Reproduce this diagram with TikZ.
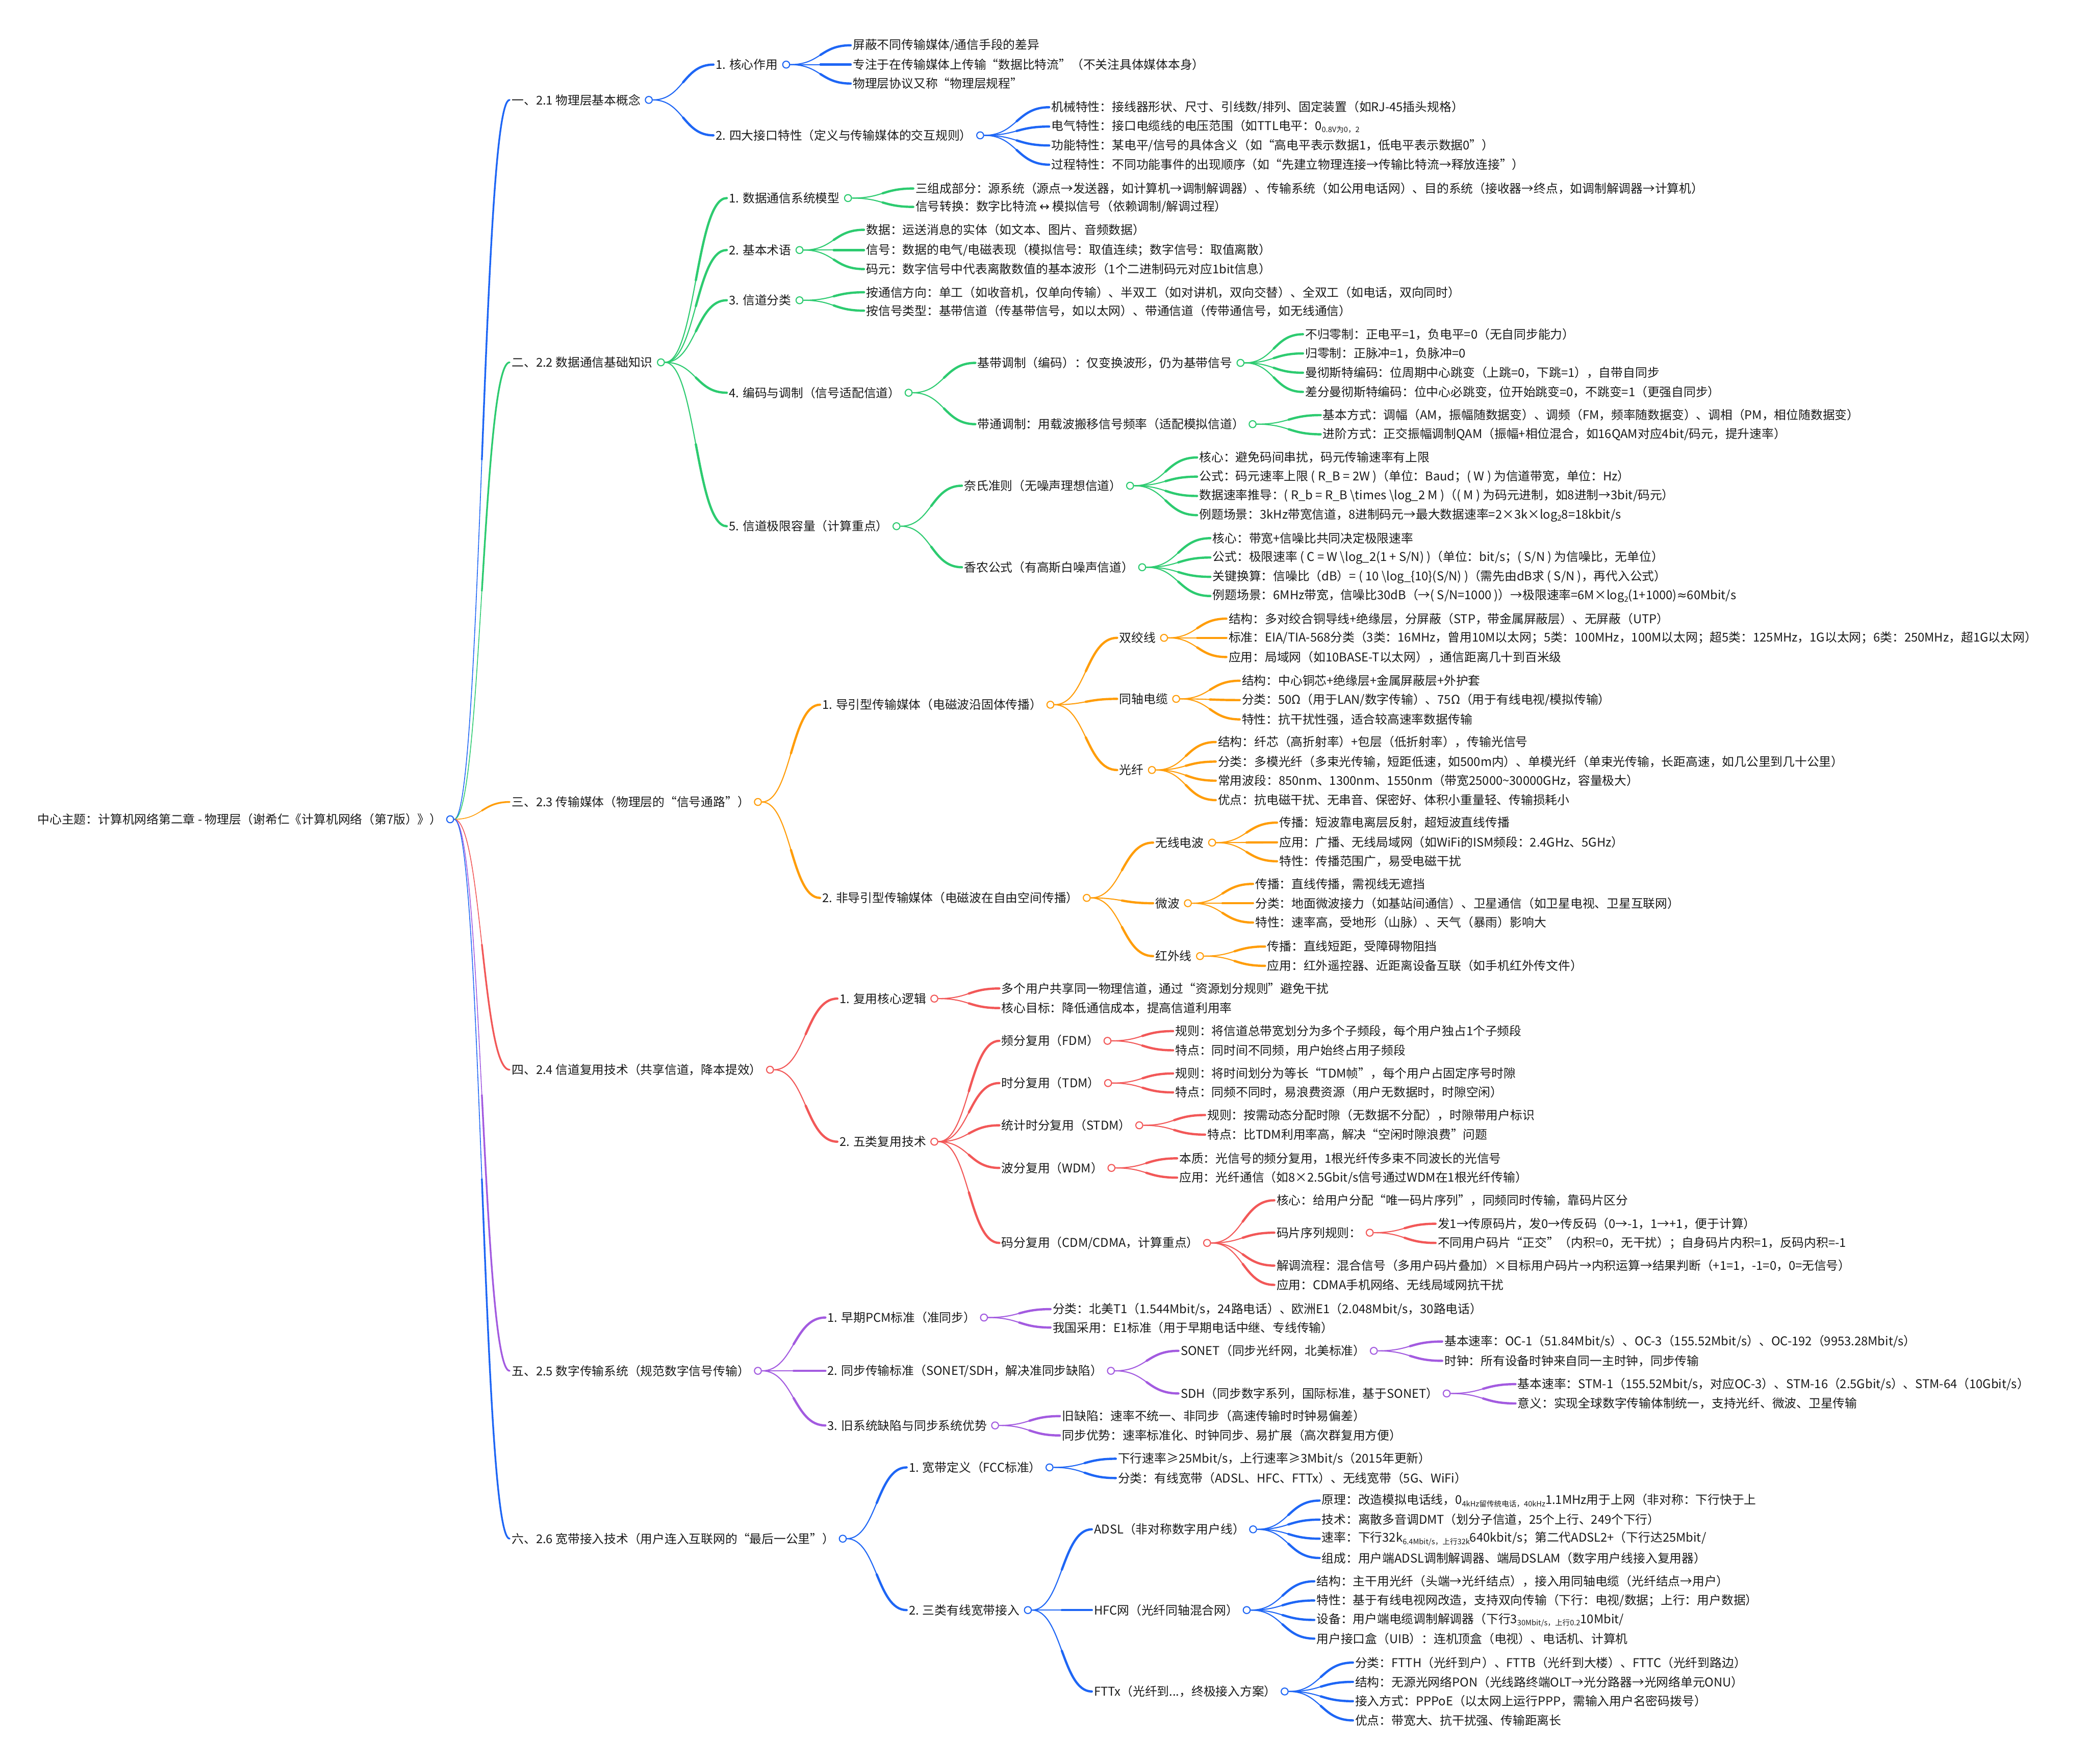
\documentclass[tikz,border=0pt]{standalone}
\usepackage{fontspec}
\setmainfont{Noto Sans CJK SC}
\newfontfamily\dv{DejaVu Sans}
\usetikzlibrary{calc}
\definecolor{cA}{HTML}{1E66F5}
\definecolor{cB}{HTML}{2DCB70}
\definecolor{cC}{HTML}{FF9D0A}
\definecolor{cD}{HTML}{F25858}
\definecolor{cE}{HTML}{A35BE0}
\definecolor{txt}{HTML}{1A1A1A}
\pgfdeclarelayer{back}\pgfdeclarelayer{bg}\pgfsetlayers{back,bg,main}
\newcommand\fs{\fontsize{9.1}{11}\selectfont}
\newcommand\lsub[1]{\raisebox{-0.35ex}{\fontsize{5.6}{6}\selectfont #1}}
\newcommand\bs{\textbackslash}
\tikzset{
  t/.style={anchor=west,inner sep=0pt,font=\fs,text=txt},
  dot/.style={circle,draw,line width=0.8pt,fill=white,minimum size=5.2pt,inner sep=0pt},
}
\newcommand\Lf[4]{\node[t] (#1) at (#2,#3) {#4};}
\newcommand\Pn[5]{\node[t] (#1) at (#2,#3) {#4};\node[dot,draw=#5] (#1-dot) at ([xshift=6pt]#1.east) {};}
\newcommand\conn[5]{%
\begin{pgfonlayer}{bg}
\draw[#1,line width=#2] let \p1=(#4),\p2=(#5) in (\p1) .. controls ({(\x1+\x2)/2},\y1) and ({(\x1+\x2)/2},\y2) .. (\p2);
\draw[#1,line width=#3,line cap=round] let \p1=(#4),\p2=(#5) in ({(\x1+\x2)/2},{(\y1+\y2)/2}) .. controls ({(3*(\x1+\x2)/2+\x2)/4},{(\y1+3*\y2)/4}) and ({((\x1+\x2)/2+\x2)/2},\y2) .. (\p2);
\end{pgfonlayer}}
\newcommand\Ed[3]{\conn{#1}{0.8pt}{1.7pt}{#2-dot.east}{[xshift=-1.5pt]#3.west}}
\newcommand\Er[2]{\conn{#1}{0.6pt}{1.3pt}{root-dot.east}{[xshift=-1.5pt]#2.west}}
\begin{document}
\begin{tikzpicture}[x=1pt,y=-1pt]
\useasboundingbox (0,0) rectangle (1568,1324);
\begin{pgfonlayer}{back}
\fill[white] (0,0) rectangle (1568,1324);
\end{pgfonlayer}
% root
\Pn{root}{28}{615}{中心主题：计算机网络第二章 - 物理层（谢希仁《计算机网络（第7版）》）}{cA}
% level 1
\Pn{a}{384}{75}{一、2.1 物理层基本概念}{cA}
\Pn{b}{384}{272}{二、2.2 数据通信基础知识}{cB}
\Pn{c}{384}{602}{三、2.3 传输媒体（物理层的“信号通路”）}{cC}
\Pn{d}{384}{803}{四、2.4 信道复用技术（共享信道，降本提效）}{cD}
\Pn{e}{384}{1029}{五、2.5 数字传输系统（规范数字信号传输）}{cE}
\Pn{f}{384}{1155}{六、2.6 宽带接入技术（用户连入互联网的“最后一公里”）}{cA}
\Er{cA}{a}\Er{cB}{b}\Er{cC}{c}\Er{cD}{d}\Er{cE}{e}\Er{cA}{f}
% ===== branch 1
\Pn{a1}{537}{48.5}{1. 核心作用}{cA}
\Lf{a1a}{640}{34}{屏蔽不同传输媒体/通信手段的差异}
\Lf{a1b}{640}{48.5}{专注于在传输媒体上传输“数据比特流”（不关注具体媒体本身）}
\Lf{a1c}{640}{62.7}{物理层协议又称“物理层规程”}
\Pn{a2}{537}{101.6}{2. 四大接口特性（定义与传输媒体的交互规则）}{cA}
\Lf{a2a}{789}{80.5}{机械特性：接线器形状、尺寸、引线数/排列、固定装置（如RJ-45插头规格）}
\Lf{a2b}{789}{95}{电气特性：接口电缆线的电压范围（如TTL电平：0\lsub{0.8V为0，2}}
\Lf{a2c}{789}{109.2}{功能特性：某电平/信号的具体含义（如“高电平表示数据1，低电平表示数据0”）}
\Lf{a2d}{789}{123.6}{过程特性：不同功能事件的出现顺序（如“先建立物理连接→传输比特流→释放连接”）}
\Ed{cA}{a}{a1}\Ed{cA}{a}{a2}
\Ed{cA}{a1}{a1a}\Ed{cA}{a1}{a1b}\Ed{cA}{a1}{a1c}
\Ed{cA}{a2}{a2a}\Ed{cA}{a2}{a2b}\Ed{cA}{a2}{a2c}\Ed{cA}{a2}{a2d}
% ===== branch 2
\Pn{b1}{547}{148.7}{1. 数据通信系统模型}{cB}
\Lf{b1a}{687}{141.5}{三组成部分：源系统（源点→发送器，如计算机→调制解调器）、传输系统（如公用电话网）、目的系统（接收器→终点，如调制解调器→计算机）}
\Lf{b1b}{687}{155.3}{信号转换：数字比特流 {\dv ↔} 模拟信号（依赖调制/解调过程）}
\Pn{b2}{547}{187.7}{2. 基本术语}{cB}
\Lf{b2a}{650}{172.5}{数据：运送消息的实体（如文本、图片、音频数据）}
\Lf{b2b}{650}{187.7}{信号：数据的电气/电磁表现（模拟信号：取值连续；数字信号：取值离散）}
\Lf{b2c}{650}{202}{码元：数字信号中代表离散数值的基本波形（1个二进制码元对应1bit信息）}
\Pn{b3}{547}{225.4}{3. 信道分类}{cB}
\Lf{b3a}{650}{219.4}{按通信方向：单工（如收音机，仅单向传输）、半双工（如对讲机，双向交替）、全双工（如电话，双向同时）}
\Lf{b3b}{650}{233.2}{按信号类型：基带信道（传基带信号，如以太网）、带通信道（传带通信号，如无线通信）}
\Pn{b4}{547}{294.8}{4. 编码与调制（信号适配信道）}{cB}
\Pn{b4a}{733.6}{272.4}{基带调制（编码）：仅变换波形，仍为基带信号}{cB}
\Lf{b4a1}{979.5}{250.9}{不归零制：正电平=1，负电平=0（无自同步能力）}
\Lf{b4a2}{979.5}{265.3}{归零制：正脉冲=1，负脉冲=0}
\Lf{b4a3}{979.5}{279.8}{曼彻斯特编码：位周期中心跳变（上跳=0，下跳=1），自带自同步}
\Lf{b4a4}{979.5}{294.2}{差分曼彻斯特编码：位中心必跳变，位开始跳变=0，不跳变=1（更强自同步）}
\Pn{b4b}{733.6}{318.4}{带通调制：用载波搬移信号频率（适配模拟信道）}{cB}
\Lf{b4b1}{992.8}{311.6}{基本方式：调幅（AM，振幅随数据变）、调频（FM，频率随数据变）、调相（PM，相位随数据变）}
\Lf{b4b2}{992.8}{326}{进阶方式：正交振幅调制QAM（振幅+相位混合，如16QAM对应4bit/码元，提升速率）}
\Pn{b5}{547}{395}{5. 信道极限容量（计算重点）}{cB}
\Pn{b5a}{723.5}{364.6}{奈氏准则（无噪声理想信道）}{cB}
\Lf{b5a1}{900}{343.4}{核心：避免码间串扰，码元传输速率有上限}
\Lf{b5a2}{900}{357.8}{公式：码元速率上限 ( R\_B = 2W )（单位：Baud；( W ) 为信道带宽，单位：Hz）}
\Lf{b5a3}{900}{372.3}{数据速率推导：( R\_b = R\_B \bs times \bs log\_2 M )（( M ) 为码元进制，如8进制→3bit/码元）}
\Lf{b5a4}{900}{386.7}{例题场景：3kHz带宽信道，8进制码元→最大数据速率=2×3k×log\lsub{2}8=18kbit/s}
\Pn{b5b}{723.5}{425.8}{香农公式（有高斯白噪声信道）}{cB}
\Lf{b5b1}{910}{404}{核心：带宽+信噪比共同决定极限速率}
\Lf{b5b2}{910}{418.5}{公式：极限速率 ( C = W \bs log\_2(1 + S/N) )（单位：bit/s；( S/N ) 为信噪比，无单位）}
\Lf{b5b3}{910}{433}{关键换算：信噪比（dB）= ( 10 \bs log\_\{10\}(S/N) )（需先由dB求 ( S/N )，再代入公式）}
\Lf{b5b4}{910}{447.4}{例题场景：6MHz带宽，信噪比30dB（→( S/N=1000 )）→极限速率=6M×log\lsub{2}(1+1000){\dv ≈}60Mbit/s}
\Ed{cB}{b}{b1}\Ed{cB}{b}{b2}\Ed{cB}{b}{b3}\Ed{cB}{b}{b4}\Ed{cB}{b}{b5}
\Ed{cB}{b1}{b1a}\Ed{cB}{b1}{b1b}
\Ed{cB}{b2}{b2a}\Ed{cB}{b2}{b2b}\Ed{cB}{b2}{b2c}
\Ed{cB}{b3}{b3a}\Ed{cB}{b3}{b3b}
\Ed{cB}{b4}{b4a}\Ed{cB}{b4}{b4b}
\Ed{cB}{b4a}{b4a1}\Ed{cB}{b4a}{b4a2}\Ed{cB}{b4a}{b4a3}\Ed{cB}{b4a}{b4a4}
\Ed{cB}{b4b}{b4b1}\Ed{cB}{b4b}{b4b2}
\Ed{cB}{b5}{b5a}\Ed{cB}{b5}{b5b}
\Ed{cB}{b5a}{b5a1}\Ed{cB}{b5a}{b5a2}\Ed{cB}{b5a}{b5a3}\Ed{cB}{b5a}{b5a4}
\Ed{cB}{b5b}{b5b1}\Ed{cB}{b5b}{b5b2}\Ed{cB}{b5b}{b5b3}\Ed{cB}{b5b}{b5b4}
% ===== branch 3
\Pn{c1}{617}{529}{1. 导引型传输媒体（电磁波沿固体传播）}{cC}
\Pn{c1a}{840}{478.8}{双绞线}{cC}
\Lf{c1a1}{922}{464.4}{结构：多对绞合铜导线+绝缘层，分屏蔽（STP，带金属屏蔽层）、无屏蔽（UTP）}
\Lf{c1a2}{922}{478.8}{标准：EIA/TIA-568分类（3类：16MHz，曾用10M以太网；5类：100MHz，100M以太网；超5类：125MHz，1G以太网；6类：250MHz，超1G以太网）}
\Lf{c1a3}{922}{493.2}{应用：局域网（如10BASE-T以太网），通信距离几十到百米级}
\Pn{c1b}{840}{524.6}{同轴电缆}{cC}
\Lf{c1b1}{932}{511}{结构：中心铜芯+绝缘层+金属屏蔽层+外护套}
\Lf{c1b2}{932}{525.5}{分类：50Ω（用于LAN/数字传输）、75Ω（用于有线电视/模拟传输）}
\Lf{c1b3}{932}{540}{特性：抗干扰性强，适合较高速率数据传输}
\Pn{c1c}{840}{578}{光纤}{cC}
\Lf{c1c1}{914}{557}{结构：纤芯（高折射率）+包层（低折射率），传输光信号}
\Lf{c1c2}{914}{571.7}{分类：多模光纤（多束光传输，短距低速，如500m内）、单模光纤（单束光传输，长距高速，如几公里到几十公里）}
\Lf{c1c3}{914}{586}{常用波段：850nm、1300nm、1550nm（带宽25000\textasciitilde30000GHz，容量极大）}
\Lf{c1c4}{914}{600.6}{优点：抗电磁干扰、无串音、保密好、体积小重量轻、传输损耗小}
\Pn{c2}{617}{674}{2. 非导引型传输媒体（电磁波在自由空间传播）}{cC}
\Pn{c2a}{867}{632.5}{无线电波}{cC}
\Lf{c2a1}{960}{617.5}{传播：短波靠电离层反射，超短波直线传播}
\Lf{c2a2}{960}{632.3}{应用：广播、无线局域网（如WiFi的ISM频段：2.4GHz、5GHz）}
\Lf{c2a3}{960}{646.5}{特性：传播范围广，易受电磁干扰}
\Pn{c2b}{867}{678}{微波}{cC}
\Lf{c2b1}{942}{663.5}{传播：直线传播，需视线无遮挡}
\Lf{c2b2}{942}{678}{分类：地面微波接力（如基站间通信）、卫星通信（如卫星电视、卫星互联网）}
\Lf{c2b3}{942}{692.5}{特性：速率高，受地形（山脉）、天气（暴雨）影响大}
\Pn{c2c}{867}{717.7}{红外线}{cC}
\Lf{c2c1}{951}{710.5}{传播：直线短距，受障碍物阻挡}
\Lf{c2c2}{951}{725}{应用：红外遥控器、近距离设备互联（如手机红外传文件）}
\Ed{cC}{c}{c1}\Ed{cC}{c}{c2}
\Ed{cC}{c1}{c1a}\Ed{cC}{c1}{c1b}\Ed{cC}{c1}{c1c}
\Ed{cC}{c1a}{c1a1}\Ed{cC}{c1a}{c1a2}\Ed{cC}{c1a}{c1a3}
\Ed{cC}{c1b}{c1b1}\Ed{cC}{c1b}{c1b2}\Ed{cC}{c1b}{c1b3}
\Ed{cC}{c1c}{c1c1}\Ed{cC}{c1c}{c1c2}\Ed{cC}{c1c}{c1c3}\Ed{cC}{c1c}{c1c4}
\Ed{cC}{c2}{c2a}\Ed{cC}{c2}{c2b}\Ed{cC}{c2}{c2c}
\Ed{cC}{c2a}{c2a1}\Ed{cC}{c2a}{c2a2}\Ed{cC}{c2a}{c2a3}
\Ed{cC}{c2b}{c2b1}\Ed{cC}{c2b}{c2b2}\Ed{cC}{c2b}{c2b3}
\Ed{cC}{c2c}{c2c1}\Ed{cC}{c2c}{c2c2}
% ===== branch 4
\Pn{d1}{630}{749.6}{1. 复用核心逻辑}{cD}
\Lf{d1a}{751.6}{742}{多个用户共享同一物理信道，通过“资源划分规则”避免干扰}
\Lf{d1b}{751.6}{756.7}{核心目标：降低通信成本，提高信道利用率}
\Pn{d2}{630}{857}{2. 五类复用技术}{cD}
\Pn{d2a}{751.6}{781.3}{频分复用（FDM）}{cD}
\Lf{d2a1}{882}{774}{规则：将信道总带宽划分为多个子频段，每个用户独占1个子频段}
\Lf{d2a2}{882}{788.4}{特点：同时间不同频，用户始终占用子频段}
\Pn{d2b}{751.6}{813}{时分复用（TDM）}{cD}
\Lf{d2b1}{882}{805.8}{规则：将时间划分为等长“TDM帧”，每个用户占固定序号时隙}
\Lf{d2b2}{882}{820}{特点：同频不同时，易浪费资源（用户无数据时，时隙空闲）}
\Pn{d2c}{751.6}{844.7}{统计时分复用（STDM）}{cD}
\Lf{d2c1}{906}{837}{规则：按需动态分配时隙（无数据不分配），时隙带用户标识}
\Lf{d2c2}{906}{851.7}{特点：比TDM利用率高，解决“空闲时隙浪费”问题}
\Pn{d2d}{751.6}{876.7}{波分复用（WDM）}{cD}
\Lf{d2d1}{885}{869.5}{本质：光信号的频分复用，1根光纤传多束不同波长的光信号}
\Lf{d2d2}{885}{884}{应用：光纤通信（如8×2.5Gbit/s信号通过WDM在1根光纤传输）}
\Pn{d2e}{751.6}{933}{码分复用（CDM/CDMA，计算重点）}{cD}
\Lf{d2e1}{958}{901}{核心：给用户分配“唯一码片序列”，同频同时传输，靠码片区分}
\Pn{d2e2}{958}{925.3}{码片序列规则：}{cD}
\Lf{d2e2a}{1079}{918.6}{发1→传原码片，发0→传反码（0→-1，1→+1，便于计算）}
\Lf{d2e2b}{1079}{933}{不同用户码片“正交”（内积=0，无干扰）；自身码片内积=1，反码内积=-1}
\Lf{d2e3}{958}{950}{解调流程：混合信号（多用户码片叠加）×目标用户码片→内积运算→结果判断（+1=1，-1=0，0=无信号）}
\Lf{d2e4}{958}{964.5}{应用：CDMA手机网络、无线局域网抗干扰}
\Ed{cD}{d}{d1}\Ed{cD}{d}{d2}
\Ed{cD}{d1}{d1a}\Ed{cD}{d1}{d1b}
\Ed{cD}{d2}{d2a}\Ed{cD}{d2}{d2b}\Ed{cD}{d2}{d2c}\Ed{cD}{d2}{d2d}\Ed{cD}{d2}{d2e}
\Ed{cD}{d2a}{d2a1}\Ed{cD}{d2a}{d2a2}
\Ed{cD}{d2b}{d2b1}\Ed{cD}{d2b}{d2b2}
\Ed{cD}{d2c}{d2c1}\Ed{cD}{d2c}{d2c2}
\Ed{cD}{d2d}{d2d1}\Ed{cD}{d2d}{d2d2}
\Ed{cD}{d2e}{d2e1}\Ed{cD}{d2e}{d2e2}\Ed{cD}{d2e}{d2e3}\Ed{cD}{d2e}{d2e4}
\Ed{cD}{d2e2}{d2e2a}\Ed{cD}{d2e2}{d2e2b}
% ===== branch 5
\Pn{e1}{621}{989}{1. 早期PCM标准（准同步）}{cE}
\Lf{e1a}{790}{982.7}{分类：北美T1（1.544Mbit/s，24路电话）、欧洲E1（2.048Mbit/s，30路电话）}
\Lf{e1b}{790}{996.5}{我国采用：E1标准（用于早期电话中继、专线传输）}
\Pn{e2}{621}{1029}{2. 同步传输标准（SONET/SDH，解决准同步缺陷）}{cE}
\Pn{e2a}{886}{1014}{SONET（同步光纤网，北美标准）}{cE}
\Lf{e2a1}{1084}{1007}{基本速率：OC-1（51.84Mbit/s）、OC-3（155.52Mbit/s）、OC-192（9953.28Mbit/s）}
\Lf{e2a2}{1084}{1021.5}{时钟：所有设备时钟来自同一主时钟，同步传输}
\Pn{e2b}{886}{1046}{SDH（同步数字系列，国际标准，基于SONET）}{cE}
\Lf{e2b1}{1139}{1039}{基本速率：STM-1（155.52Mbit/s，对应OC-3）、STM-16（2.5Gbit/s）、STM-64（10Gbit/s）}
\Lf{e2b2}{1139}{1053.5}{意义：实现全球数字传输体制统一，支持光纤、微波、卫星传输}
\Pn{e3}{621}{1070}{3. 旧系统缺陷与同步系统优势}{cE}
\Lf{e3a}{797}{1063}{旧缺陷：速率不统一、非同步（高速传输时时钟易偏差）}
\Lf{e3b}{797}{1077.5}{同步优势：速率标准化、时钟同步、易扩展（高次群复用方便）}
\Ed{cE}{e}{e1}\Ed{cE}{e}{e2}\Ed{cE}{e}{e3}
\Ed{cE}{e1}{e1a}\Ed{cE}{e1}{e1b}
\Ed{cE}{e2}{e2a}\Ed{cE}{e2}{e2b}
\Ed{cE}{e2a}{e2a1}\Ed{cE}{e2a}{e2a2}
\Ed{cE}{e2b}{e2b1}\Ed{cE}{e2b}{e2b2}
\Ed{cE}{e3}{e3a}\Ed{cE}{e3}{e3b}
% ===== branch 6
\Pn{f1}{682}{1101.5}{1. 宽带定义（FCC标准）}{cA}
\Lf{f1a}{839}{1095}{下行速率≥25Mbit/s，上行速率≥3Mbit/s（2015年更新）}
\Lf{f1b}{839}{1109.5}{分类：有线宽带（ADSL、HFC、FTTx）、无线宽带（5G、WiFi）}
\Pn{f2}{682}{1208.6}{2. 三类有线宽带接入}{cA}
\Pn{f2a}{821}{1148}{ADSL（非对称数字用户线）}{cA}
\Lf{f2a1}{992}{1126.4}{原理：改造模拟电话线，0\lsub{4kHz留传统电话，40kHz}1.1MHz用于上网（非对称：下行快于上}
\Lf{f2a2}{992}{1140.7}{技术：离散多音调DMT（划分子信道，25个上行、249个下行）}
\Lf{f2a3}{992}{1155}{速率：下行32k\lsub{6.4Mbit/s，上行32k}640kbit/s；第二代ADSL2+（下行达25Mbit/}
\Lf{f2a4}{992}{1169.5}{组成：用户端ADSL调制解调器、端局DSLAM（数字用户线接入复用器）}
\Pn{f2b}{821}{1208.6}{HFC网（光纤同轴混合网）}{cA}
\Lf{f2b1}{988}{1187}{结构：主干用光纤（头端→光纤结点），接入用同轴电缆（光纤结点→用户）}
\Lf{f2b2}{988}{1201.4}{特性：基于有线电视网改造，支持双向传输（下行：电视/数据；上行：用户数据）}
\Lf{f2b3}{988}{1216}{设备：用户端电缆调制解调器（下行3\lsub{30Mbit/s，上行0.2}10Mbit/}
\Lf{f2b4}{988}{1230}{用户接口盒（UIB）：连机顶盒（电视）、电话机、计算机}
\Pn{f2c}{821}{1269.7}{FTTx（光纤到...，终极接入方案）}{cA}
\Lf{f2c1}{1017}{1248}{分类：FTTH（光纤到户）、FTTB（光纤到大楼）、FTTC（光纤到路边）}
\Lf{f2c2}{1017}{1262.5}{结构：无源光网络PON（光线路终端OLT→光分路器→光网络单元ONU）}
\Lf{f2c3}{1017}{1277}{接入方式：PPPoE（以太网上运行PPP，需输入用户名密码拨号）}
\Lf{f2c4}{1017}{1291.4}{优点：带宽大、抗干扰强、传输距离长}
\Ed{cA}{f}{f1}\Ed{cA}{f}{f2}
\Ed{cA}{f1}{f1a}\Ed{cA}{f1}{f1b}
\Ed{cA}{f2}{f2a}\Ed{cA}{f2}{f2b}\Ed{cA}{f2}{f2c}
\Ed{cA}{f2a}{f2a1}\Ed{cA}{f2a}{f2a2}\Ed{cA}{f2a}{f2a3}\Ed{cA}{f2a}{f2a4}
\Ed{cA}{f2b}{f2b1}\Ed{cA}{f2b}{f2b2}\Ed{cA}{f2b}{f2b3}\Ed{cA}{f2b}{f2b4}
\Ed{cA}{f2c}{f2c1}\Ed{cA}{f2c}{f2c2}\Ed{cA}{f2c}{f2c3}\Ed{cA}{f2c}{f2c4}
\end{tikzpicture}
\end{document}
